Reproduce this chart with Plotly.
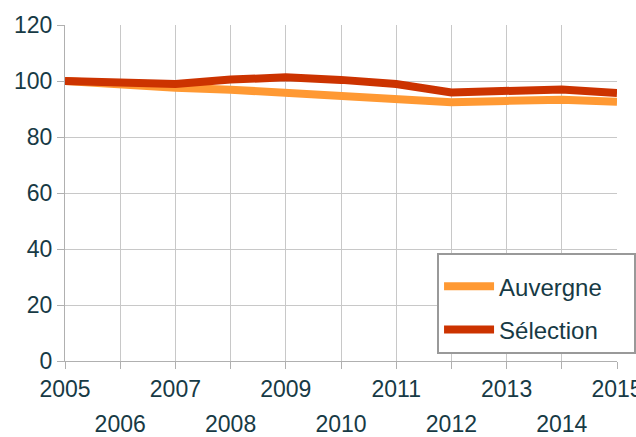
import plotly.graph_objects as go

years = [2005, 2006, 2007, 2008, 2009, 2010, 2011, 2012, 2013, 2014, 2015]
auvergne = [100, 98.6, 97.6, 96.9, 95.8, 94.7, 94.0, 92.4, 92.9, 93.3, 92.6]
selection = [100, 99.2, 98.9, 100.5, 101.3, 100.4, 98.9, 95.9, 96.3, 97.0, 95.7]
series_names = ["Auvergne", "Sélection"]
odd_ticks = [2005, 2007, 2009, 2011, 2013, 2015]
even_ticks = [2006, 2008, 2010, 2012, 2014]
y_ticks = [0, 20, 40, 60, 80, 100, 120]

txt = "#173a45"
grid = "#c8c8c8"
font = dict(family="Liberation Sans, Arial, sans-serif", size=23, color=txt)
pad = "\u00a0" * 4

fig = go.Figure()
fig.add_trace(go.Scatter(x=years, y=auvergne, mode="lines", name=series_names[0] + pad,
                         legendgroup="a", line=dict(color="#ff9933", width=8)))
fig.add_trace(go.Scatter(x=years, y=selection, mode="lines", name=series_names[1] + pad,
                         legendgroup="b", line=dict(color="#cc3300", width=8)))
fig.add_trace(go.Scatter(x=years, y=selection, mode="lines", xaxis="x2",
                         showlegend=False, hoverinfo="skip",
                         line=dict(color="rgba(0,0,0,0)", width=0)))

fig.update_layout(
    width=636, height=437,
    margin=dict(l=65, r=19, t=25, b=76, autoexpand=False),
    paper_bgcolor="white", plot_bgcolor="white",
    font=font,
    xaxis=dict(range=[2005, 2015], tickvals=odd_ticks, ticktext=[str(v) for v in odd_ticks],
               showgrid=True, gridcolor=grid, gridwidth=1, zeroline=False,
               showline=True, linecolor="#b0b0b0", linewidth=1,
               ticks="outside", ticklen=7, tickcolor="#b0b0b0",
               tickfont=font, automargin=False, ticklabeloverflow="allow"),
    xaxis2=dict(range=[2005, 2015], overlaying="x", side="bottom", matches="x",
                tickvals=even_ticks, ticktext=[str(v) for v in even_ticks],
                showgrid=True, gridcolor=grid, gridwidth=1, zeroline=False,
                showline=False, ticks="outside", ticklen=7, tickcolor="#b0b0b0",
                ticklabelstandoff=35, tickfont=font, automargin=False,
                ticklabeloverflow="allow"),
    yaxis=dict(range=[0, 120], tickvals=y_ticks, showgrid=True, gridcolor=grid,
               gridwidth=1, zeroline=False, showline=True, linecolor="#b0b0b0",
               linewidth=1, ticks="outside", ticklen=7, tickcolor="#b0b0b0",
               tickfont=font, automargin=False),
    legend=dict(x=0.674, y=0.321, xanchor="left", yanchor="top",
                bgcolor="white", bordercolor="#999999", borderwidth=2,
                font=dict(family="Liberation Sans, Arial, sans-serif", size=24, color=txt),
                title=dict(text=" ", font=dict(size=7)),
                itemwidth=50, tracegroupgap=9, traceorder="grouped"),
)

fig.write_html("out.html", config={"displayModeBar": False},
               post_script="document.body.style.margin='0px';document.body.style.overflow='hidden';")
